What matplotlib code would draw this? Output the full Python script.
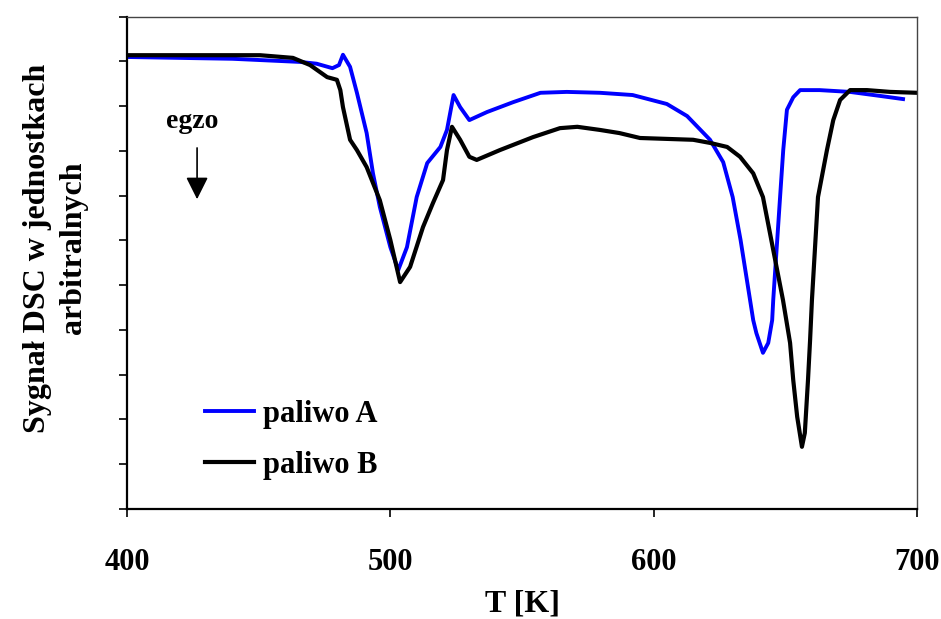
import matplotlib
matplotlib.use("Agg")
import matplotlib.pyplot as plt

plt.rcParams['font.family'] = ['Liberation Serif', 'DejaVu Serif']
plt.rcParams['font.weight'] = 'bold'

# paliwo A (niebieska)
temp_a = [400, 420, 440, 465.7, 472, 478, 480.5, 482, 484.7, 487.3, 491, 493.4, 496,
          500, 503, 506.3, 510, 514, 519, 521.5, 524, 526.5, 530, 536.7, 546.6, 557,
          567, 579.6, 592, 605, 612.7, 621.4, 626.4, 630, 633, 636.6, 637.8, 639,
          641.5, 643.5, 645, 645.4, 648, 649.2, 650.6, 653, 655.6, 663, 674.5, 686,
          694.7]
dsc_a = [10.10, 10.08, 10.06, 9.99, 9.95, 9.85, 9.92, 10.15, 9.88, 9.30, 8.40, 7.50,
         6.75, 5.85, 5.34, 5.85, 6.97, 7.73, 8.09, 8.47, 9.25, 8.98, 8.69, 8.87,
         9.09, 9.30, 9.32, 9.30, 9.25, 9.05, 8.78, 8.25, 7.75, 6.97, 6.01, 4.67,
         4.22, 3.93, 3.49, 3.71, 4.22, 4.67, 6.97, 8.02, 8.92, 9.20, 9.36, 9.36,
         9.32, 9.23, 9.16]

# paliwo B (czarna)
temp_b = [400, 430, 450.5, 463, 469.5, 476, 479.7, 481, 482, 484.7, 487.3, 491, 496,
          500, 503.7, 507.5, 512.4, 516.2, 520, 521.5, 523.4, 526.5, 530, 532.8,
          541.6, 554.2, 564.4, 571, 579.6, 587, 594.8, 615, 621.4, 627.9, 632.8,
          637.8, 641.5, 649.1, 651.8, 653, 654.5, 656.3, 657.4, 658.6, 659.4, 660.1,
          662.4, 665.8, 668.2, 670.8, 674.6, 681, 689.8, 700]
dsc_b = [10.14, 10.14, 10.14, 10.08, 9.92, 9.65, 9.59, 9.36, 8.98, 8.25, 8.02, 7.64,
         6.90, 6.01, 5.07, 5.41, 6.30, 6.84, 7.35, 8.02, 8.54, 8.25, 7.87, 7.80,
         8.02, 8.31, 8.51, 8.54, 8.47, 8.40, 8.29, 8.25, 8.18, 8.09, 7.87, 7.50,
         6.97, 4.67, 3.71, 2.88, 2.06, 1.39, 1.70, 2.88, 3.78, 4.67, 6.97, 8.02,
         8.69, 9.14, 9.36, 9.36, 9.32, 9.30]

x_ticks = [400, 500, 600, 700]

fig = plt.figure(figsize=(9.41, 6.19), dpi=100)
ax = fig.add_axes([0.135, 0.1777, 0.8395, 0.7953])

ax.plot(temp_a, dsc_a, color='#0000ff', lw=2.8, label='paliwo A')
ax.plot(temp_b, dsc_b, color='black', lw=3.0, label='paliwo B')

ax.set_xlim(400, 700)
ax.set_ylim(0, 11)
ax.set_xticks(x_ticks)
ax.set_yticks(range(0, 12))
ax.set_yticklabels([])
ax.tick_params(axis='both', direction='out', length=6, width=1.2)
ax.tick_params(axis='x', labelsize=22, pad=22)
for lab in ax.get_xticklabels():
    lab.set_fontweight('bold')

for s in ['left', 'bottom']:
    ax.spines[s].set_linewidth(1.6)
for s in ['top', 'right']:
    ax.spines[s].set_linewidth(1.0)
    ax.spines[s].set_color('#444444')

ax.set_xlabel('T [K]', fontsize=23, fontweight='bold', labelpad=9)
ax.set_ylabel('Sygnał DSC w jednostkach\narbitralnych', fontsize=23,
              fontweight='bold', linespacing=1.3)
ax.yaxis.set_label_coords(-0.05, 0.53)

# strzałka "egzo"
ax.text(424.7, 8.51, 'egzo', fontsize=20, fontweight='bold', ha='center', va='baseline')
ax.annotate('', xy=(426.6, 6.86), xytext=(426.6, 8.13),
            arrowprops=dict(arrowstyle='-|>', color='black', lw=1.2,
                            mutation_scale=34))

leg = ax.legend(loc='upper left', bbox_to_anchor=(0.099, 0.222), frameon=False,
                prop={'size': 22, 'weight': 'bold'}, handlelength=1.6,
                handletextpad=0.3, labelspacing=0.72, borderpad=0, borderaxespad=0)

fig.savefig('out.png', dpi=100)
